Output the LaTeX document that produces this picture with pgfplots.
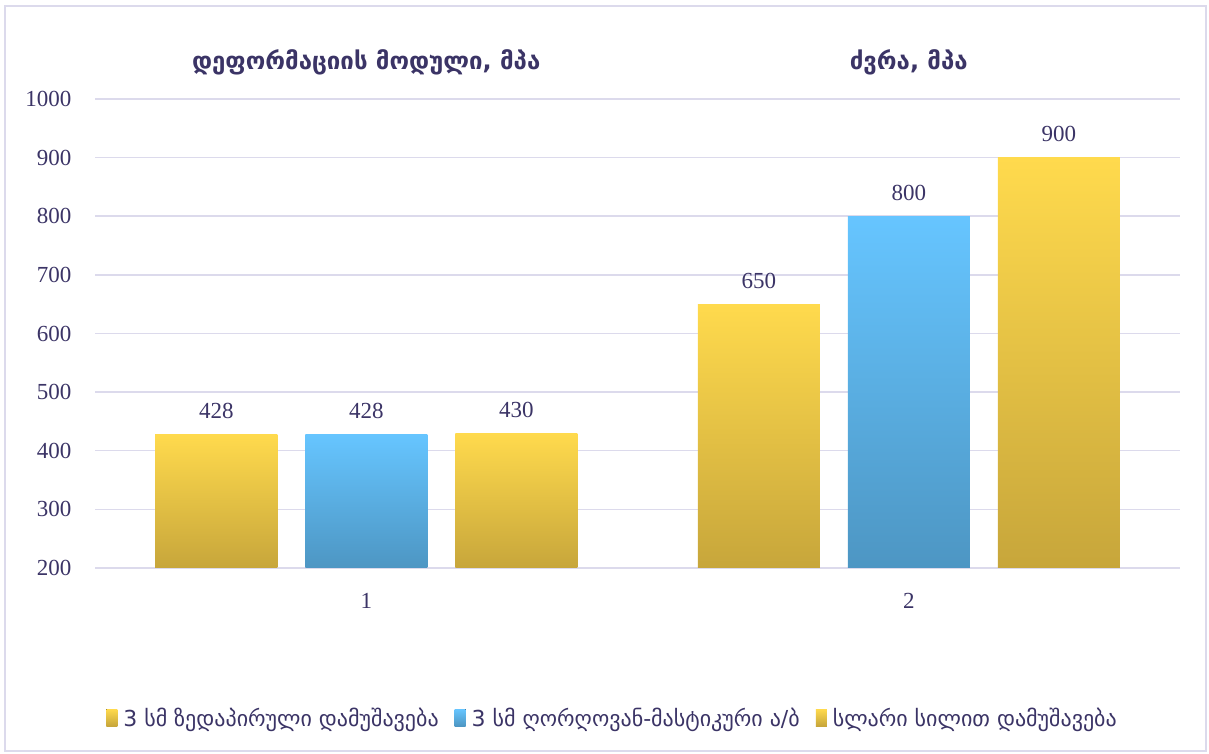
\documentclass[border=0pt]{standalone}
\usepackage{fontspec}
\setmainfont{Liberation Serif}
\newfontfamily\geo{DejaVu Sans}
\usepackage{pgfplots}
\pgfplotsset{compat=1.18}
\definecolor{txt}{HTML}{3B3466}
\definecolor{gridc}{HTML}{DCDAEC}
\definecolor{yT}{HTML}{FFDA4D}
\definecolor{yB}{HTML}{C7A63B}
\definecolor{bT}{HTML}{66C5FF}
\definecolor{bB}{HTML}{4D96C3}
\begin{document}
\begin{tikzpicture}[x=1pt,y=1pt]
\path (0,0) rectangle (1209,754);
\draw[gridc, line width=1.5pt] (5,3) rectangle (1206,748);
\begin{axis}[at={(95pt,186pt)}, anchor=south west, scale only axis,
  width=1085pt, height=469pt,
  xmin=0.5, xmax=2.5, ymin=200, ymax=1000,
  ytick={200,300,...,1000}, xtick={1,2},
  axis line style={draw=none}, major tick length=0pt,
  ymajorgrids, grid style={gridc, line width=1.5pt},
  /pgf/number format/assume math mode=true,
  /pgf/number format/1000 sep={},
  ticklabel style={font=\fontsize{23}{27}\selectfont, text=txt},
  yticklabel style={xshift=-20pt},
  xticklabel style={yshift=-22pt},
  clip=false,
  nodes near coords,
  every node near coord/.append style={font=\fontsize{23}{27}\selectfont, text=txt, yshift=12pt},
  legend style={draw=none, at={(0.477,-0.32)}, anchor=center, legend columns=3,
    font=\geo\fontsize{22}{26}\selectfont, text=txt,
    /tikz/every odd column/.append style={column sep=4pt},
    /tikz/every even column/.append style={column sep=14pt}},
  legend cell align=left,
]
\addplot[ybar, bar width=122pt, bar shift=-150pt, draw=none, top color=yT, bottom color=yB,
  nodes near coords style={xshift=-150pt},
  legend image code/.code={\fill[top color=yT,bottom color=yB] (0pt,-8pt) rectangle (11pt,9pt);}]
  coordinates {(1,428)};
\addlegendentry{3 სმ ზედაპირული დამუშავება}
\addplot[ybar, bar width=122pt, bar shift=0pt, draw=none, top color=bT, bottom color=bB,
  legend image code/.code={\fill[top color=bT,bottom color=bB] (0pt,-8pt) rectangle (11pt,9pt);}]
  coordinates {(1,428)};
\addlegendentry{3 სმ ღორღოვან-მასტიკური ა/ბ}
\addplot[ybar, bar width=122pt, bar shift=150pt, draw=none, top color=yT, bottom color=yB,
  nodes near coords style={xshift=150pt},
  legend image code/.code={\fill[top color=yT,bottom color=yB] (0pt,-8pt) rectangle (11pt,9pt);}]
  coordinates {(1,430)};
\addlegendentry{სლარი სილით დამუშავება}
\addplot[ybar, forget plot, bar width=122pt, bar shift=-150pt, draw=none, top color=yT, bottom color=yB,
  nodes near coords style={xshift=-150pt}]
  coordinates {(2,650)};
\addplot[ybar, forget plot, bar width=122pt, bar shift=0pt, draw=none, top color=bT, bottom color=bB]
  coordinates {(2,800)};
\addplot[ybar, forget plot, bar width=122pt, bar shift=150pt, draw=none, top color=yT, bottom color=yB,
  nodes near coords style={xshift=150pt}]
  coordinates {(2,900)};
\node[font=\geo\bfseries\fontsize{24}{28}\selectfont, text=txt] at (axis cs:1,1063) {დეფორმაციის მოდული, მპა};
\node[font=\geo\bfseries\fontsize{24}{28}\selectfont, text=txt] at (axis cs:2,1063) {ძვრა, მპა};
\end{axis}
\end{tikzpicture}
\end{document}
